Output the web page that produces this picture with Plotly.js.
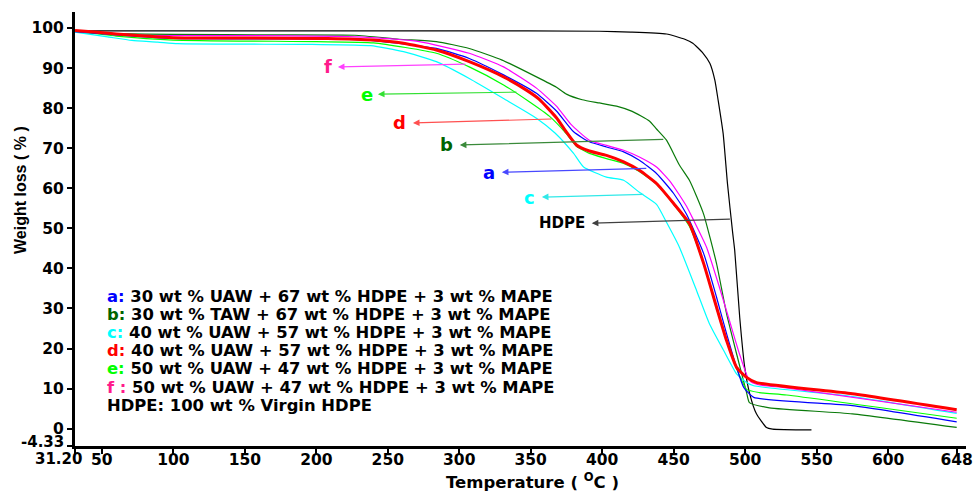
<!DOCTYPE html>
<html>
<head>
<meta charset="utf-8">
<script src="https://cdn.plot.ly/plotly-3.0.1.min.js"></script>
<style>html,body{margin:0;padding:0;background:#fff}#chart{width:977px;height:492px}</style>
</head>
<body>
<div id="chart"></div>
<script>
// ---- Data ----
const tempHDPE = [31.2, 100, 200, 300, 398, 420, 445, 457.8, 463.4, 470.6, 475.3, 478.8, 481.1, 484.6, 487.6, 491.3, 492.7, 496.2, 499.7, 503.2, 507.9, 514.9, 519.2, 546.4];
const wlHDPE   = [99.3, 99.3, 99.3, 99.3, 99.2, 99.0, 98.5, 97.2, 96.2, 93.7, 91.2, 87.0, 82.0, 73.7, 61.3, 48.8, 44.5, 27.8, 15.3, 8.7, 3.7, 0.3, -0.1, -0.3];

const tempB = [31.2, 60, 100, 171, 227, 258, 284, 307, 330, 354, 368, 375, 386, 398, 410, 421, 433, 438, 445, 454, 461, 466, 471, 480, 487, 494, 501, 503, 517, 575, 648];
const wlB   = [99.1, 98.6, 98.4, 98.3, 98.2, 97.2, 96.6, 94.9, 92.0, 87.8, 85.2, 83.5, 82.1, 81.3, 80.5, 79.2, 76.8, 74.8, 72.0, 65.8, 62.0, 58.0, 53.5, 41.2, 28.7, 18.7, 9.0, 6.5, 5.2, 3.7, 0.3];

const tempC = [31.2, 54, 71, 89, 103, 197, 238, 261, 284, 307, 331, 354, 367, 380, 387, 403, 415, 426, 438, 445, 454, 466, 475, 485, 494, 501, 506, 575, 648];
const wlC   = [99.0, 97.8, 96.9, 96.5, 96.1, 95.9, 95.6, 94.1, 91.6, 87.4, 82.4, 77.5, 73.8, 68.7, 65.3, 62.8, 62.0, 59.0, 56.0, 51.5, 45.3, 34.5, 26.2, 19.5, 13.7, 11.5, 10.7, 8.0, 3.8];

const tempE = [31.2, 60, 100, 200, 240, 284, 307, 331, 349, 363, 375, 382, 391, 403, 415, 426, 438, 450, 461, 471, 480, 487, 494, 501, 510, 529, 648];
const wlE   = [99.2, 98.0, 97.0, 96.6, 96.3, 93.7, 90.3, 85.8, 81.6, 78.0, 73.6, 70.5, 68.7, 67.4, 66.2, 64.2, 61.0, 56.0, 50.5, 41.0, 30.0, 22.0, 15.0, 9.8, 9.0, 8.4, 2.6];

const tempA = [31.2, 60, 100, 150, 215, 238, 284, 307, 331, 354, 368, 380, 391, 403, 415, 426, 438, 450, 459, 471, 480, 487, 494, 499, 506, 575, 648];
const wlA   = [99.1, 98.3, 97.4, 97.3, 97.2, 96.9, 94.9, 92.4, 88.3, 83.7, 79.3, 74.1, 71.6, 70.3, 69.1, 67.0, 63.7, 58.7, 53.5, 43.7, 32.8, 23.7, 15.3, 10.3, 7.8, 5.75, 1.7];

const tempF = [31.2, 60, 78, 150, 215, 238, 272, 307, 331, 354, 368, 378, 391, 403, 415, 426, 438, 448, 459, 464, 473, 482, 489, 496, 503, 510, 529, 648];
const wlF   = [99.2, 98.6, 98.2, 98.1, 97.9, 97.6, 96.6, 93.7, 90.3, 85.0, 80.5, 76.0, 72.0, 70.7, 69.5, 67.8, 65.3, 61.5, 55.5, 52.0, 45.3, 35.3, 27.0, 18.7, 12.0, 10.9, 10.2, 4.1];

const tempD = [31.2, 45, 60, 80, 100, 150, 208, 240, 261, 284, 307, 331, 347, 356, 368, 375, 382, 391, 403, 415, 426, 438, 450, 461, 471, 480, 487, 494, 501, 508, 575, 648];
const wlD   = [99.4, 99.0, 98.5, 98.0, 97.6, 97.5, 97.4, 97.0, 96.2, 94.5, 91.6, 87.8, 84.5, 82.2, 77.6, 74.0, 70.8, 69.3, 68.2, 66.6, 64.5, 61.2, 56.2, 51.2, 41.2, 30.3, 22.0, 15.3, 12.8, 11.5, 8.7, 4.7];

const xTickVals = [31.2, 50, 100, 150, 200, 250, 300, 350, 400, 450, 500, 550, 600, 648];
const xTickText = ['', '50', '100', '150', '200', '250', '300', '350', '400', '450', '500', '550', '600', '648'];
const yTickVals = [-4.33, 0, 10, 20, 30, 40, 50, 60, 70, 80, 90, 100];
const yTickText = ['', '0', '10', '20', '30', '40', '50', '60', '70', '80', '90', '100'];
const xFirstLabel = '31.20';
const yFirstLabel = '-4.33';

const legendKeys  = ['a:', 'b:', 'c:', 'd:', 'e:', 'f :', 'HDPE:'];
const legendTexts = [
  ' 30 wt % UAW + 67 wt % HDPE + 3 wt % MAPE',
  ' 30 wt % TAW + 67 wt % HDPE + 3 wt % MAPE',
  ' 40 wt % UAW + 57 wt % HDPE + 3 wt % MAPE',
  ' 40 wt % UAW + 57 wt % HDPE + 3 wt % MAPE',
  ' 50 wt % UAW + 47 wt % HDPE + 3 wt % MAPE',
  ' 50 wt % UAW + 47 wt % HDPE + 3 wt % MAPE',
  ' 100 wt % Virgin HDPE'
];

// ---- Styling ----
const cBlue = '#0000ff', cDkGreen = '#0a7a0a', cCyan = '#00ffff', cRed = '#ff0000', cLime = '#00ff00', cMag = '#ff00ff', cPink = '#ff1a8c', cBlack = '#000000';
const keyColors = [cBlue, '#006400', cCyan, cRed, cLime, cPink, cBlack];

const W = 977, H = 492, L = 75, R = 966, T = 12, B = 446;
const px = v => (v - L) / (R - L);
const py = v => (B - v) / (B - T);

function line(x, y, color, width) {
  return {x: x, y: y, type: 'scatter', mode: 'lines', showlegend: false, hoverinfo: 'skip',
          line: {color: color, width: width, shape: 'spline', smoothing: 0.5}};
}
const traces = [
  line(tempHDPE, wlHDPE, cBlack, 1.2),
  line(tempB, wlB, cDkGreen, 1.2),
  line(tempC, wlC, cCyan, 1.2),
  line(tempE, wlE, cLime, 1.2),
  line(tempA, wlA, cBlue, 1.2),
  line(tempF, wlF, cMag, 1.2),
  line(tempD, wlD, cRed, 3)
];

const FONT = 'DejaVu Sans, Arial, sans-serif';
const annotations = [];

// Legend block (text lines)
const legTop = 296, legStep = 18.2;
legendKeys.forEach((k, i) => {
  annotations.push({
    xref: 'paper', yref: 'paper', x: px(105), y: py(legTop + i * legStep),
    xanchor: 'left', yanchor: 'middle', showarrow: false,
    text: '<span style="color:' + keyColors[i] + '">' + k + '</span>' + legendTexts[i],
    font: {family: FONT, size: 16.4, color: '#000', weight: 'bold'}
  });
});

// Pointer labels with arrows: [label, labelX, labelY, tipX, tipY, tailX, tailY, labelColor, arrowColor, size]
const pointers = [
  ['f',    208.1, 90.3, 215.1, 90.3, 305.3, 91.0, cPink,   '#ff40ff', 18],
  ['e',    235.4, 83.5, 243.1, 83.5, 341.0, 84.0, cLime,   '#33e033', 18],
  ['d',    258.0, 76.3, 267.6, 76.3, 365.5, 77.3, cRed,    '#ff5050', 18],
  ['b',    291.0, 71.0, 300.4, 70.8, 443.8, 72.2, '#006400','#3a8a3a', 18],
  ['a',    321.0, 64.0, 329.8, 64.0, 431.9, 65.0, cBlue,   '#4848ff', 18],
  ['c',    349.0, 57.8, 357.8, 57.8, 429.8, 58.5, cCyan,   '#30e8e8', 18],
  ['HDPE', 371.8, 51.3, 392.7, 51.3, 490.4, 52.3, cBlack,  '#404040', 15]
];
pointers.forEach(p => {
  annotations.push({xref: 'x', yref: 'y', x: p[1], y: p[2], showarrow: false, text: p[0],
    xanchor: 'center', yanchor: 'middle',
    font: {family: FONT, size: p[9], color: p[7], weight: 'bold'}});
  annotations.push({xref: 'x', yref: 'y', axref: 'x', ayref: 'y', x: p[3], y: p[4], ax: p[5], ay: p[6],
    text: ' ', font: {size: 1}, showarrow: true, arrowhead: 2, arrowsize: 1.1, arrowwidth: 1.2,
    arrowcolor: p[8], standoff: 0, startstandoff: 0});
});

// First x and y tick labels (offset like the reference so they do not collide)
annotations.push({xref: 'paper', yref: 'paper', x: px(84), y: py(459), xanchor: 'right', yanchor: 'middle',
  showarrow: false, text: xFirstLabel, font: {family: FONT, size: 15, color: '#000', weight: 'bold'}});
annotations.push({xref: 'paper', yref: 'paper', x: px(66), y: py(442), xanchor: 'right', yanchor: 'middle',
  showarrow: false, text: yFirstLabel, font: {family: FONT, size: 15, color: '#000', weight: 'bold'}});

// Axis titles
annotations.push({xref: 'paper', yref: 'paper', x: px(20), y: py(190), xanchor: 'center', yanchor: 'middle',
  showarrow: false, textangle: -90, text: 'Weight loss ( % )',
  font: {family: 'Liberation Sans, Arial, sans-serif', size: 16, color: '#000', weight: 'bold'}});
annotations.push({xref: 'paper', yref: 'paper', x: px(532), y: py(481), xanchor: 'center', yanchor: 'middle',
  showarrow: false, text: 'Temperature ( <sup>O</sup>C )',
  font: {family: FONT, size: 16.5, color: '#000', weight: 'bold'}});

const tickFont = {family: FONT, size: 15.5, color: '#000', weight: 'bold'};
const layout = {
  width: W, height: H,
  margin: {l: L, r: W - R, t: T, b: H - B, pad: 0},
  paper_bgcolor: '#fff', plot_bgcolor: '#fff',
  showlegend: false,
  xaxis: {range: [31.2, 654.5], showgrid: false, zeroline: false, showline: true, linewidth: 3, linecolor: '#000',
          ticks: 'outside', ticklen: 5, tickwidth: 2, tickcolor: '#000', ticklabelstandoff: -8,
          tickmode: 'array', tickvals: xTickVals, ticktext: xTickText, tickfont: tickFont},
  yaxis: {range: [-4.33, 104], showgrid: false, zeroline: false, showline: true, linewidth: 3, linecolor: '#000',
          ticks: 'outside', ticklen: 5, tickwidth: 2, tickcolor: '#000',
          tickmode: 'array', tickvals: yTickVals, ticktext: yTickText, tickfont: tickFont},
  annotations: annotations
};

Plotly.newPlot('chart', traces, layout, {staticPlot: true, displayModeBar: false});
</script>
</body>
</html>
